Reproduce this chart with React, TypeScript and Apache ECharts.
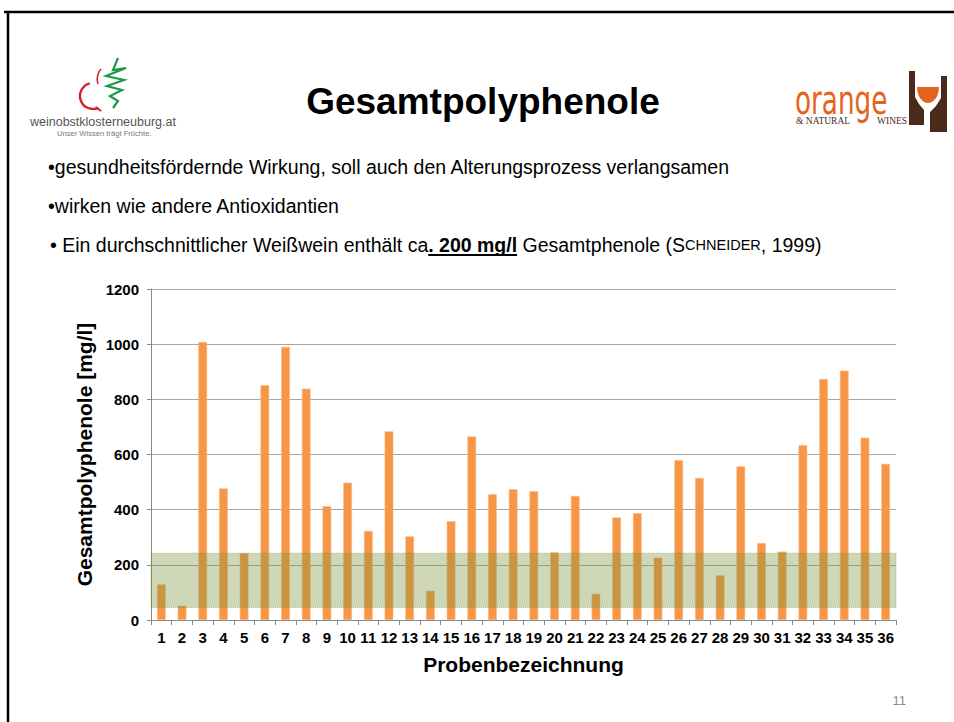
import React, { useEffect, useRef } from "react";
import * as echarts from "echarts";

const categories = [
  "1", "2", "3", "4", "5", "6", "7", "8", "9", "10", "11", "12",
  "13", "14", "15", "16", "17", "18", "19", "20", "21", "22", "23", "24",
  "25", "26", "27", "28", "29", "30", "31", "32", "33", "34", "35", "36",
];
const polyphenols = [
  129, 52, 1008, 477, 242, 851, 990, 839, 413, 498, 323, 684,
  303, 106, 358, 665, 456, 474, 467, 245, 450, 95, 372, 387,
  226, 579, 515, 162, 557, 279, 248, 634, 874, 904, 661, 566,
];
const bandRange = [45, 242];
const yMin = 0;
const yMax = 1200;
const yInterval = 200;

const titleText = "Gesamtpolyphenole";
const bullet1 = "•gesundheitsfördernde Wirkung, soll auch den Alterungsprozess verlangsamen";
const bullet2 = "•wirken wie andere Antioxidantien";
const bullet3a = "• Ein durchschnittlicher Weißwein enthält ca";
const bullet3b = ". 200 mg/l";
const bullet3c = " Gesamtphenole (";
const bullet3d = "S";
const bullet3e = "CHNEIDER";
const bullet3f = ", 1999)";
const xName = "Probenbezeichnung";
const yName = "Gesamtpolyphenole [mg/l]";
const pageNo = "11";

const SANS = '"Liberation Sans", Arial, Helvetica, sans-serif';
const BODY = 19.5;

function measure(font: string, text: string): number {
  const c = document.createElement("canvas").getContext("2d");
  if (!c) return text.length * 10;
  c.font = font;
  return c.measureText(text).width;
}

function halfEllipse(cx: number, top: number, rx: number, ry: number, n: number) {
  const pts: number[][] = [];
  for (let i = 0; i <= n; i++) {
    const a = (Math.PI * i) / n;
    pts.push([cx + rx * Math.cos(a), top + ry * Math.sin(a)]);
  }
  return pts;
}

export default function App() {
  const ref = useRef<HTMLDivElement>(null);

  useEffect(() => {
    if (!ref.current) return;
    const chart = echarts.init(ref.current, null, { renderer: "svg" });

    const line3x = 50;
    const ulStart = line3x + measure(`${BODY}px ${SANS}`, bullet3a);
    const ulEnd = ulStart + measure(`bold ${BODY}px ${SANS}`, bullet3b);

    const graphicEls: any[] = [
      // slide frame
      { type: "line", shape: { x1: 8, y1: 12, x2: 8, y2: 722 }, style: { stroke: "#000", lineWidth: 2.5 }, silent: true },
      { type: "line", shape: { x1: 4, y1: 12, x2: 954, y2: 12 }, style: { stroke: "#000", lineWidth: 2.5 }, silent: true },
      // title
      {
        type: "text", x: 483, y: 101,
        style: { text: titleText, fontFamily: SANS, fontWeight: "bold", fontSize: 37, fill: "#000", align: "center", verticalAlign: "middle" },
      },
      // bullets
      {
        type: "text", x: 48, y: 167,
        style: { text: bullet1, fontFamily: SANS, fontSize: BODY, fill: "#000", align: "left", verticalAlign: "middle" },
      },
      {
        type: "text", x: 48, y: 206,
        style: { text: bullet2, fontFamily: SANS, fontSize: BODY, fill: "#000", align: "left", verticalAlign: "middle" },
      },
      {
        type: "text", x: line3x, y: 245,
        style: {
          text: `{n|${bullet3a}}{b|${bullet3b}}{n|${bullet3c}}{n|${bullet3d}}{sc|${bullet3e}}{n|${bullet3f}}`,
          align: "left", verticalAlign: "middle",
          rich: {
            n: { fontFamily: SANS, fontSize: BODY, fill: "#000" },
            b: { fontFamily: SANS, fontSize: BODY, fontWeight: "bold", fill: "#000" },
            sc: { fontFamily: SANS, fontSize: 14.5, fill: "#000" },
          },
        },
      },
      { type: "line", shape: { x1: ulStart, y1: 255, x2: ulEnd, y2: 255 }, style: { stroke: "#000", lineWidth: 2 }, silent: true },
      // page number
      {
        type: "text", x: 906, y: 700,
        style: { text: pageNo, fontFamily: SANS, fontSize: 13, fill: "#8c8c8c", align: "right", verticalAlign: "middle" },
      },
      // left logo: apple
      {
        type: "arc", shape: { cx: 93, cy: 96, r: 13, startAngle: Math.PI * 0.38, endAngle: Math.PI * 1.42, clockwise: true },
        style: { stroke: "#d3202a", lineWidth: 2.4, fill: "none" },
      },
      {
        type: "bezierCurve", shape: { x1: 96, y1: 108, x2: 101, y2: 110, cpx1: 97, cpy1: 106, cpx2: 100, cpy2: 112 },
        style: { stroke: "#d3202a", lineWidth: 2, fill: "none" },
      },
      {
        type: "bezierCurve", shape: { x1: 98, y1: 84, x2: 101, y2: 69, cpx1: 96, cpy1: 78, cpx2: 98, cpy2: 72 },
        style: { stroke: "#d3202a", lineWidth: 1.6, fill: "none" },
      },
      {
        type: "polyline",
        shape: { points: [[118, 58], [113, 70], [126, 68], [106, 76], [124, 80], [107, 86], [122, 90], [110, 96], [118, 101], [113, 108]] },
        style: { stroke: "#1c9a48", lineWidth: 2.2, fill: "none" },
      },
      {
        type: "text", x: 30, y: 122,
        style: { text: "weinobstklosterneuburg.at", fontFamily: SANS, fontSize: 12.5, fill: "#555", align: "left", verticalAlign: "middle" },
      },
      {
        type: "text", x: 57, y: 133,
        style: { text: "Unser Wissen trägt Früchte.", fontFamily: SANS, fontSize: 7.6, fill: "#777", align: "left", verticalAlign: "middle" },
      },
      // right logo
      {
        type: "text", x: 795, y: 100, scaleX: 0.73,
        style: { text: "orange", fontFamily: '"DejaVu Sans Condensed", "DejaVu Sans", sans-serif', fontSize: 40, fill: "#e4641d", align: "left", verticalAlign: "middle" },
      },
      {
        type: "text", x: 796, y: 121,
        style: { text: "& NATURAL", fontFamily: '"Liberation Serif", serif', fontSize: 9.5, fill: "#4a2b1c", align: "left", verticalAlign: "middle" },
      },
      {
        type: "text", x: 877, y: 121,
        style: { text: "WINES", fontFamily: '"Liberation Serif", serif', fontSize: 9.5, fill: "#4a2b1c", align: "left", verticalAlign: "middle" },
      },
      {
        type: "polygon",
        shape: { points: [[909, 71], [915, 71], [915, 97], [919, 104], [924, 110], [924, 125], [909, 125]] },
        style: { fill: "#4b2a1a" },
      },
      {
        type: "polygon",
        shape: { points: [[941, 76], [947, 76], [947, 132], [930, 132], [930, 112], [936, 106], [941, 98]] },
        style: { fill: "#4b2a1a" },
      },
      {
        type: "polygon",
        shape: { points: halfEllipse(928, 87, 11, 16, 16) },
        style: { fill: "#e4641d" },
      },
    ];

    chart.setOption({
      animation: false,
      backgroundColor: "#fff",
      grid: { left: 151, right: 58, top: 289, bottom: 102, containLabel: false },
      xAxis: {
        type: "category",
        data: categories,
        name: xName,
        nameLocation: "middle",
        nameGap: 34,
        nameTextStyle: { fontFamily: SANS, fontWeight: "bold", fontSize: 21, color: "#000" },
        axisLine: { show: true, lineStyle: { color: "#8a8a8a", width: 1 } },
        axisTick: { show: true, length: 5, alignWithLabel: false, lineStyle: { color: "#8a8a8a" } },
        axisLabel: { interval: 0, fontFamily: SANS, fontWeight: "bold", fontSize: 15, color: "#000", margin: 10 },
        splitLine: { show: false },
      },
      yAxis: {
        type: "value",
        min: yMin,
        max: yMax,
        interval: yInterval,
        name: yName,
        nameLocation: "middle",
        nameGap: 53,
        nameRotate: 90,
        nameTextStyle: { fontFamily: SANS, fontWeight: "bold", fontSize: 21, color: "#000" },
        axisLine: { show: true, lineStyle: { color: "#8a8a8a", width: 1 } },
        axisTick: { show: true, length: 4, lineStyle: { color: "#8a8a8a" } },
        axisLabel: {
          fontFamily: SANS, fontWeight: "bold", fontSize: 15, color: "#000", margin: 12,
          formatter: (v: number) => String(v),
        },
        splitLine: { show: true, lineStyle: { color: "#a6a6a6", width: 1 } },
      },
      series: [
        {
          type: "bar",
          data: polyphenols,
          barWidth: "42%",
          z: 2,
          itemStyle: { color: "#F79646", borderColor: "#FAB98A", borderWidth: 0.6 },
        },
        {
          type: "line",
          data: [],
          z: 5,
          silent: true,
          markArea: {
            silent: true,
            z: 10,
            itemStyle: { color: "rgba(118,148,58,0.36)", borderColor: "rgba(118,148,58,0.55)", borderWidth: 1, borderType: "dotted" },
            data: [[{ yAxis: bandRange[0] }, { yAxis: bandRange[1] }]],
          },
        },
      ],
      graphic: { elements: graphicEls },
    });

    return () => chart.dispose();
  }, []);

  return <div ref={ref} style={{ position: "fixed", left: 0, top: 0, width: 954, height: 722 }} />;
}
